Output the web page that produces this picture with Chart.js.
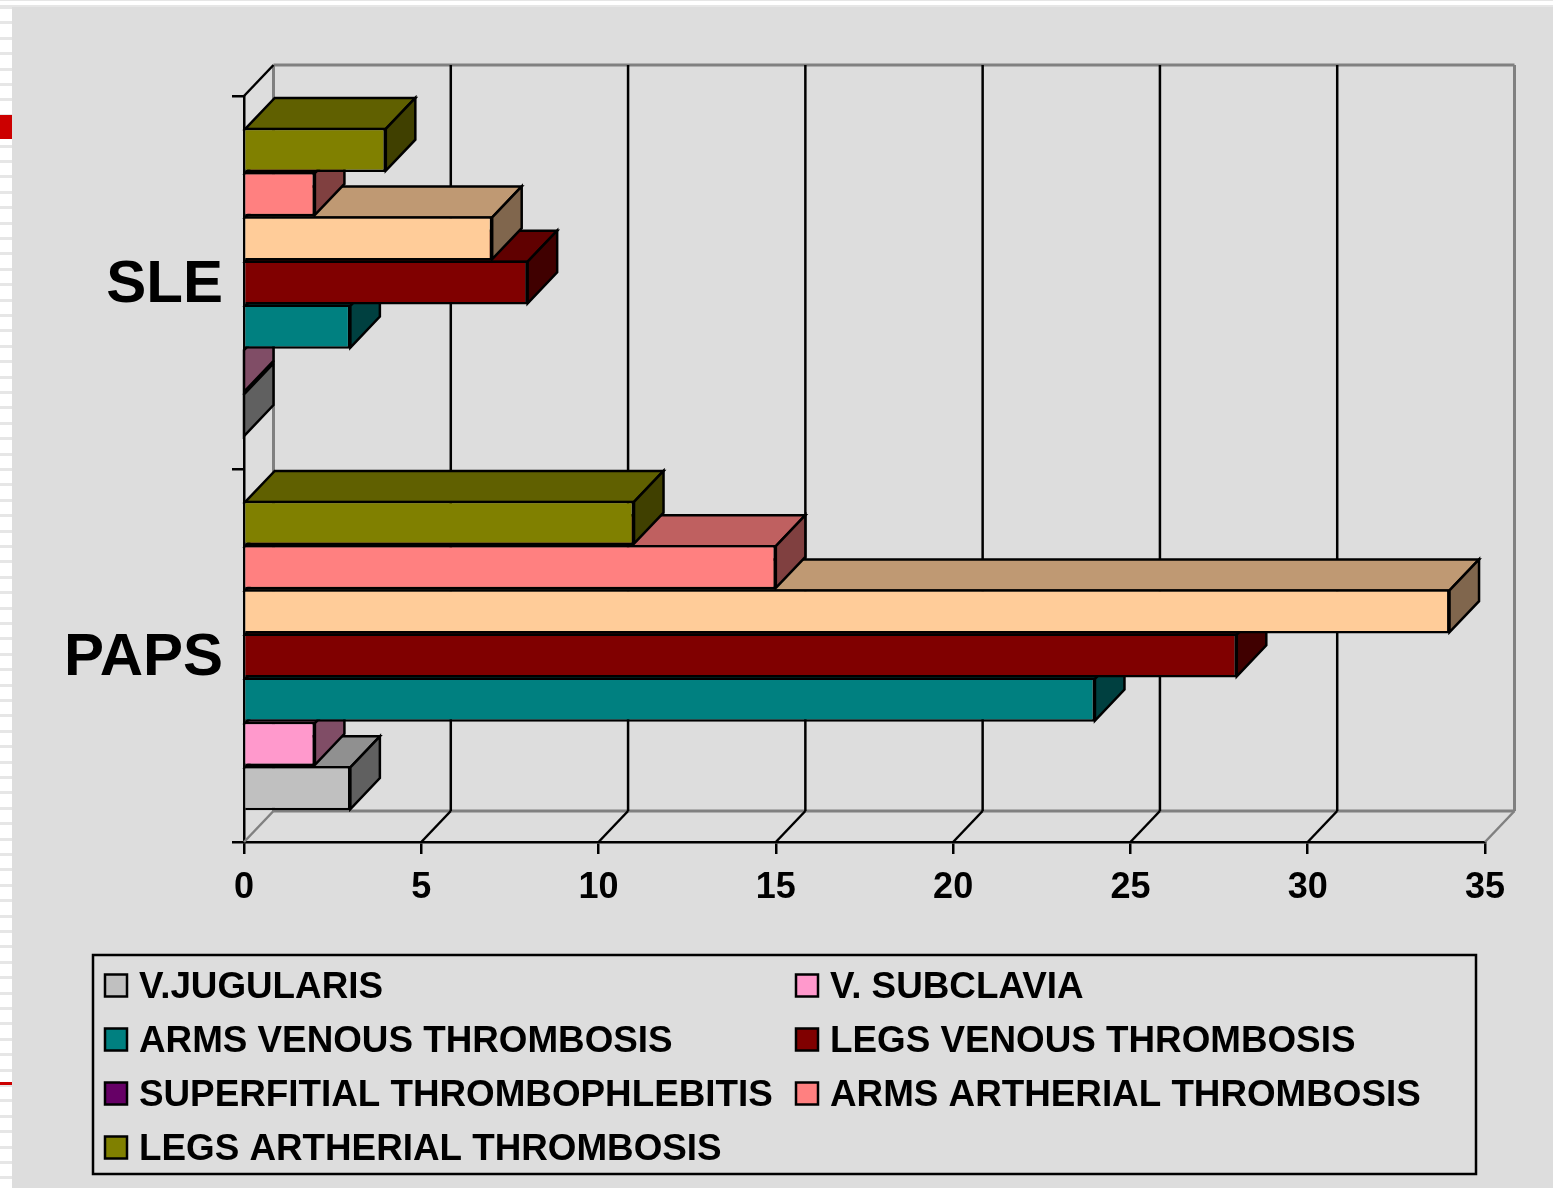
<!DOCTYPE html>
<html>
<head>
<meta charset="utf-8">
<title>Thrombosis sites, PAPS vs SLE</title>
<script src="https://cdn.jsdelivr.net/npm/chart.js@4"></script>
<style>
    html, body { margin: 0; padding: 0; background: #fff; overflow: hidden; }
    #page { position: relative; width: 1553px; height: 1188px; overflow: hidden; }
    #strip {
        position: absolute; left: 0; top: 6px; width: 12px; bottom: 0;
        background: repeating-linear-gradient(#e6e6e6 0, #e6e6e6 3px, #fff 3px, #fff 15.4px);
    }
    #topline { position: absolute; left: 0; right: 0; top: 0; height: 1px; background: #e6e6e6; }
    #topline2 { position: absolute; left: 0; right: 0; top: 5px; height: 2px; background: #e6e6e6; }
    #panel { position: absolute; left: 12px; top: 7px; right: 0; bottom: 0; background: #ddd; }
    .red { position: absolute; left: 0; width: 12px; background: #c00; }
    canvas { position: absolute; left: 0; top: 0; }
</style>
</head>
<body>
<div id="page">
    <div id="topline"></div>
    <div id="topline2"></div>
    <div id="strip"></div>
    <div id="panel"></div>
    <div class="red" style="top:115px;height:24px"></div>
    <div class="red" style="top:1082px;height:3px"></div>
    <canvas id="chart" width="1553" height="1188"></canvas>
</div>
<script>
const categories = ['SLE', 'PAPS'];
const xTicks = [0, 5, 10, 15, 20, 25, 30, 35];

const vJugularis = [0, 3];
const vSubclavia = [0, 2];
const armsVenous = [3, 24];
const legsVenous = [8, 28];
const superfitial = [7, 34];
const armsArtherial = [2, 15];
const legsArtherial = [4, 11];

const seriesNames = [
    'V.JUGULARIS', 'V. SUBCLAVIA', 'ARMS VENOUS THROMBOSIS', 'LEGS VENOUS THROMBOSIS',
    'SUPERFITIAL THROMBOPHLEBITIS', 'ARMS ARTHERIAL THROMBOSIS', 'LEGS ARTHERIAL THROMBOSIS'
];
const seriesValues = [vJugularis, vSubclavia, armsVenous, legsVenous, superfitial, armsArtherial, legsArtherial];
const barColors = ['#c0c0c0', '#ff99cc', '#008080', '#800000', '#ffcc99', '#ff8080', '#808000'];
const legendColors = ['#c0c0c0', '#ff99cc', '#008080', '#800000', '#660066', '#ff8080', '#808000'];

const FONT = '"Liberation Sans", Arial, sans-serif';
const DEPTH_X = 29.5;
const DEPTH_Y = -31;
const BORDER = 2.5;

function shade(hex, k) {
    let n = parseInt(hex.slice(1), 16);
    let r = Math.round((n >> 16 & 255) * k);
    let g = Math.round((n >> 8 & 255) * k);
    let b = Math.round((n & 255) * k);
    return 'rgb(' + r + ',' + g + ',' + b + ')';
}

function line(ctx, x0, y0, x1, y1, color, width) {
    ctx.strokeStyle = color;
    ctx.lineWidth = width;
    ctx.beginPath();
    ctx.moveTo(x0, y0);
    ctx.lineTo(x1, y1);
    ctx.stroke();
}

function face(ctx, pts, color) {
    ctx.fillStyle = color;
    ctx.strokeStyle = '#000';
    ctx.lineWidth = BORDER;
    ctx.lineJoin = 'miter';
    ctx.beginPath();
    pts.forEach((p, i) => i ? ctx.lineTo(p[0], p[1]) : ctx.moveTo(p[0], p[1]));
    ctx.closePath();
    ctx.fill();
    ctx.stroke();
}

// back wall, floor lines and gridlines behind the bars
const wallPlugin = {
    id: 'walls',
    beforeDatasetsDraw(chart) {
        const ctx = chart.ctx, area = chart.chartArea, x = chart.scales.x;
        const top = area.top + DEPTH_Y, bottom = area.bottom + DEPTH_Y;
        ctx.save();
        let left = area.left + DEPTH_X, right = area.right + DEPTH_X;
        line(ctx, left, top, left, bottom, '#808080', 3);
        line(ctx, right, top, right, bottom, '#808080', 3);
        line(ctx, left, top, right, top, '#808080', 3);
        line(ctx, left, bottom, right, bottom, '#808080', 3);
        xTicks.forEach((t, i) => {
            let px = x.getPixelForValue(t);
            let edge = i === 0 || i === xTicks.length - 1;
            if (!edge) line(ctx, px + DEPTH_X, top, px + DEPTH_X, bottom, '#000', BORDER);
            line(ctx, px, area.bottom, px + DEPTH_X, bottom, edge ? '#808080' : '#000', BORDER);
        });
        line(ctx, area.left, area.top, left, top, '#000', BORDER);
        ctx.restore();
    },
    // top and end faces go down just before each dataset's front faces
    beforeDatasetDraw(chart, args) {
        const ctx = chart.ctx;
        const color = barColors[args.index];
        ctx.save();
        args.meta.data.forEach(bar => {
            let x0 = bar.base, x1 = bar.x;
            // the library insets bar borders, so line up with the stroke centre
            let y0 = bar.y - bar.height / 2 + BORDER / 2, y1 = bar.y + bar.height / 2 - BORDER / 2;
            face(ctx, [[x0, y0], [x0 + DEPTH_X, y0 + DEPTH_Y], [x1 + DEPTH_X, y0 + DEPTH_Y], [x1, y0]], shade(color, 0.75));
            face(ctx, [[x1, y0], [x1 + DEPTH_X, y0 + DEPTH_Y], [x1 + DEPTH_X, y1 + DEPTH_Y], [x1, y1]], shade(color, 0.5));
        });
        ctx.restore();
    }
};

// boxed two column legend under the plot
const legendBox = {
    id: 'legendBox',
    afterDraw(chart) {
        const ctx = chart.ctx;
        ctx.save();
        ctx.strokeStyle = '#000';
        ctx.lineWidth = BORDER;
        ctx.strokeRect(93, 955, 1383, 219);
        ctx.font = 'bold 36.8px ' + FONT;
        ctx.textBaseline = 'middle';
        seriesNames.forEach((name, i) => {
            let col = i % 2, row = Math.floor(i / 2);
            let sx = col ? 796 : 105, cy = 985.5 + row * 54;
            ctx.fillStyle = legendColors[i];
            ctx.fillRect(sx, cy - 11, 22, 22);
            ctx.strokeRect(sx, cy - 11, 22, 22);
            ctx.fillStyle = '#000';
            ctx.fillText(name, sx + 34, cy + 2.5);
        });
        ctx.restore();
    }
};

new Chart(document.getElementById('chart'), {
    type: 'bar',
    data: {
        labels: categories,
        datasets: seriesValues.map((values, i) => ({
            label: seriesNames[i],
            data: values,
            order: seriesValues.length - i,
            backgroundColor: barColors[i],
            borderColor: '#000',
            borderWidth: BORDER
        }))
    },
    options: {
        indexAxis: 'y',
        responsive: false,
        animation: false,
        categoryPercentage: 0.83,
        barPercentage: 1,
        layout: { padding: { top: 96, right: 68, bottom: 0, left: 0 } },
        plugins: { legend: { display: false }, tooltip: { enabled: false } },
        scales: {
            x: {
                min: 0,
                max: 35,
                afterFit: scale => { scale.height = 346; },
                afterBuildTicks: scale => { scale.ticks = xTicks.map(v => ({ value: v })); },
                grid: { drawOnChartArea: false, color: '#000', lineWidth: BORDER, tickLength: 12 },
                border: { color: '#000', width: BORDER },
                ticks: {
                    color: '#000',
                    padding: 12,
                    maxRotation: 0,
                    autoSkip: false,
                    font: { family: FONT, size: 36, weight: 'bold' }
                }
            },
            y: {
                afterFit: scale => { scale.width = 244; },
                grid: { drawOnChartArea: false, color: '#000', lineWidth: BORDER, tickLength: 12, offset: true },
                border: { color: '#000', width: BORDER },
                ticks: {
                    color: '#000',
                    padding: 9,
                    labelOffset: 3,
                    font: { family: FONT, size: 60, weight: 'bold' }
                }
            }
        }
    },
    plugins: [wallPlugin, legendBox]
});
</script>
</body>
</html>
